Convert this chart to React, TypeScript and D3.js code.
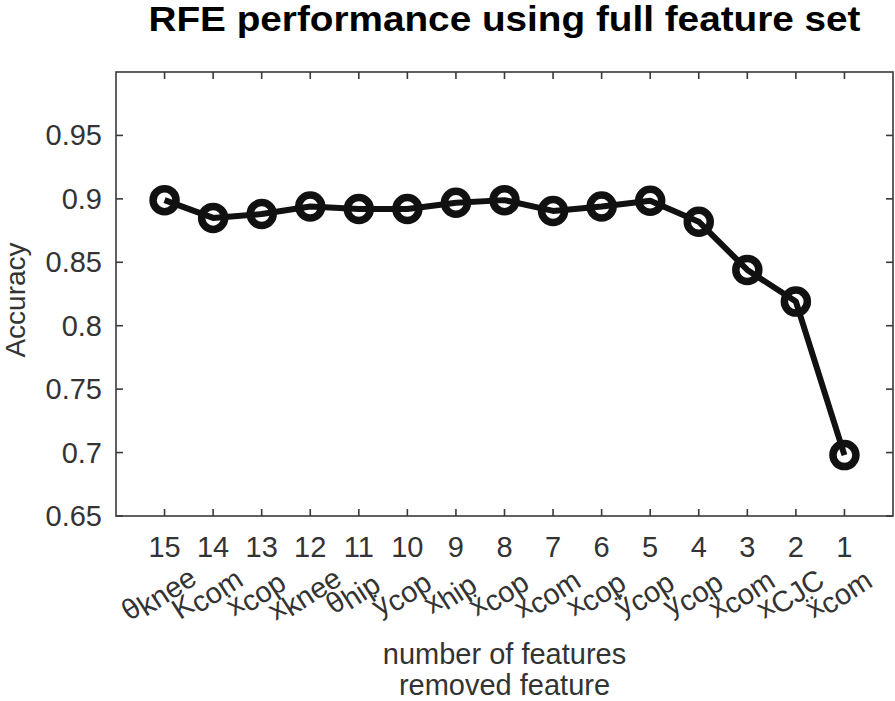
import React from "react";
import * as d3 from "d3";

const featureCounts = [15, 14, 13, 12, 11, 10, 9, 8, 7, 6, 5, 4, 3, 2, 1];
const accuracy = [0.899, 0.885, 0.888, 0.894, 0.892, 0.892, 0.897, 0.899, 0.8905, 0.894, 0.8985, 0.882, 0.844, 0.819, 0.698];
const featureBase = ["θ", "K", "ẋ", "x", "θ", "ẏ", "x", "ẍ", "x", "x", "ÿ", "y", "ẋ", "x", "ẍ"];
const featureSub = ["knee", "com", "cop", "knee", "hip", "cop", "hip", "cop", "com", "cop", "cop", "cop", "com", "CJC", "com"];
const yTicks = [0.65, 0.7, 0.75, 0.8, 0.85, 0.9, 0.95];
const yTickLabels = ["0.65", "0.7", "0.75", "0.8", "0.85", "0.9", "0.95"];

const W = 895, H = 701;
const L = 116, R = 893, T = 72, B = 516;
const FONT = "'Liberation Sans', Arial, Helvetica, sans-serif";
const AX = "#3a3a3a";
const FS = 29;
const ANG = 33;

const charW: Record<string, number> = {
  k: 0.5, n: 0.556, e: 0.556, c: 0.5, o: 0.556, m: 0.833, p: 0.556, h: 0.556, i: 0.222,
  C: 0.722, J: 0.5, K: 0.667, x: 0.5, y: 0.5, "θ": 0.556,
};
const cw = (ch: string) => charW[ch.normalize("NFD")[0]] ?? 0.55;
const sw = (s: string) => Array.from(s).reduce((a, ch) => a + cw(ch), 0) * FS;

export default function App() {
  const x = d3.scaleLinear().domain([16, 0]).range([L, R]);
  const y = d3.scaleLinear().domain([0.65, 1.0]).range([B, T]);
  const pts = featureCounts.map((c, i) => [x(c), y(accuracy[i])] as [number, number]);
  const line = d3.line()(pts) || "";
  const tl = 7;
  return (
    <svg width={W} height={H} style={{ position: "absolute", left: 0, top: 0, background: "#fff" }} fontFamily={FONT}>
      <rect x={0} y={0} width={W} height={H} fill="#fff" />
      <text x={(L + R) / 2} y={31} textAnchor="middle" fontSize={35} fontWeight="bold" fill="#000"
        textLength={712} lengthAdjust="spacingAndGlyphs">
        RFE performance using full feature set
      </text>
      <rect x={L} y={T} width={R - L} height={B - T} fill="none" stroke={AX} strokeWidth={1.6} />
      {featureCounts.map((c) => (
        <g key={"xt" + c}>
          <line x1={x(c)} x2={x(c)} y1={B} y2={B - tl} stroke={AX} strokeWidth={1.6} />
          <line x1={x(c)} x2={x(c)} y1={T} y2={T + tl} stroke={AX} strokeWidth={1.6} />
        </g>
      ))}
      {yTicks.map((v) => (
        <g key={"yt" + v}>
          <line x1={L} x2={L + tl} y1={y(v)} y2={y(v)} stroke={AX} strokeWidth={1.6} />
          <line x1={R} x2={R - tl} y1={y(v)} y2={y(v)} stroke={AX} strokeWidth={1.6} />
        </g>
      ))}
      {yTicks.map((v, i) => (
        <text key={"yl" + v} x={L - 14} y={y(v) + 10} textAnchor="end" fontSize={29} fill="#333">
          {yTickLabels[i]}
        </text>
      ))}
      {featureCounts.map((c) => (
        <text key={"xl" + c} x={x(c)} y={557} textAnchor="middle" fontSize={29} fill="#333">
          {c}
        </text>
      ))}
      {featureCounts.map((c, i) => {
        const bw = sw(featureBase[i]);
        const tw = bw + sw(featureSub[i]);
        const start = -tw / 2;
        return (
          <g key={"fl" + c} transform={`translate(${x(c) - 2},${600}) rotate(${-ANG})`}>
            <text x={start} y={0} fontSize={FS} fill="#333">{featureBase[i]}</text>
            <text x={start + bw} y={5} fontSize={FS} fill="#333">{featureSub[i]}</text>
          </g>
        );
      })}
      <text x={(L + R) / 2} y={664} textAnchor="middle" fontSize={29} fill="#333">number of features</text>
      <text x={(L + R) / 2} y={695} textAnchor="middle" fontSize={29} fill="#333">removed feature</text>
      <text transform={`translate(25,${(T + B) / 2 + 6}) rotate(-90)`} textAnchor="middle" fontSize={28} fill="#333">
        Accuracy
      </text>
      <path d={line} fill="none" stroke="#111" strokeWidth={6} strokeLinejoin="round" />
      {pts.map((p, i) => (
        <circle key={"pt" + i} cx={p[0]} cy={p[1]} r={11.5} fill="none" stroke="#111" strokeWidth={7.5} />
      ))}
    </svg>
  );
}
